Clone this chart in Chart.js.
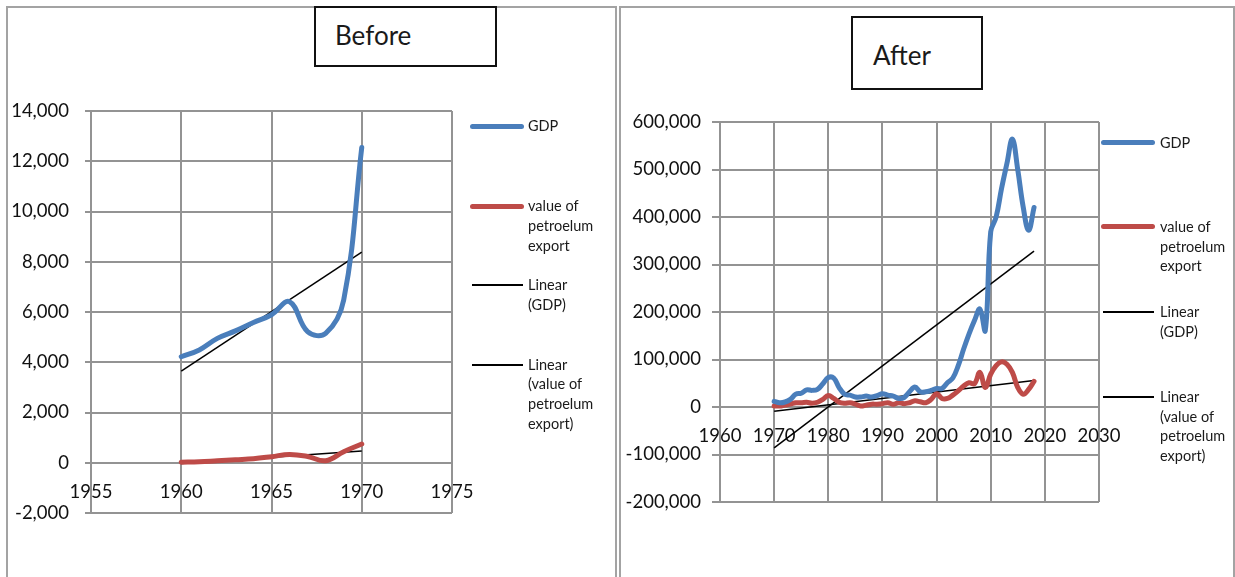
<!DOCTYPE html>
<html>
<head>
<meta charset="utf-8">
<script src="https://cdn.jsdelivr.net/npm/chart.js@4.4.0/dist/chart.umd.min.js"></script>
<style>
  body { margin: 0; width: 1235px; height: 577px; overflow: hidden; position: relative; background: #fff; font-family: Lato, "Open Sans", sans-serif; color: #1a1a1a; }
  .panel { position: absolute; top: 6px; height: 620px; border: 2px solid #a3a3a3; box-sizing: border-box; }
  canvas { position: absolute; top: 0; }
  .title { position: absolute; border: 2px solid #111; background: #fff; box-sizing: border-box; font-size: 26px; }
  .title span { position: absolute; }
  .key { position: absolute; font-size: 14.5px; line-height: 19.7px; white-space: nowrap; }
  .swatch { position: absolute; border-radius: 3px; }
</style>
</head>
<body>
<div class="panel" style="left:6px;width:611px"></div>
<div class="panel" style="left:619px;width:616px"></div>

<canvas id="chartBefore" width="615" height="577" style="left:0"></canvas>
<canvas id="chartAfter" width="615" height="577" style="left:620px"></canvas>

<div class="title" style="left:314px;top:6px;width:183px;height:61px"><span style="left:19px;top:11px">Before</span></div>
<div class="title" style="left:851px;top:16px;width:132px;height:74px"><span style="left:20px;top:21px">After</span></div>

<div id="legends"></div>

<script>
// ---- Before (1960-1970) ----
const yearsBefore = [1960, 1961, 1962, 1963, 1964, 1965, 1966, 1967, 1968, 1969, 1970];
const gdpBefore = [4220, 4490, 4950, 5250, 5580, 5890, 6410, 5220, 5150, 6480, 12550];
const petroBefore = [20, 40, 80, 120, 160, 240, 330, 250, 80, 440, 745];
const trendYearsBefore = [1960, 1970];
const trendGdpBefore = [3650, 8380];
const trendPetroBefore = [-30, 470];
const yTicksBefore = [-2000, 14000, 2000];   // min, max, step
const xTicksBefore = [1955, 1975, 5];

// ---- After (1970-2018) ----
const yearsAfter = [];
for (let y = 1970; y <= 2018; y++) yearsAfter.push(y);
const gdpAfter = [12000, 9000, 10500, 16000, 27000, 29000, 36000, 35000, 37000, 49000,
  62000, 61000, 41000, 27000, 25000, 21000, 21000, 23000, 21000, 24000,
  28000, 25000, 23000, 18000, 20000, 32000, 42000, 32000, 32000, 35000,
  39000, 39000, 51000, 61000, 87000, 122000, 154000, 182000, 206000, 161000,
  369000, 400000, 460000, 513000, 564000, 499000, 421000, 372000, 420000];
const petroAfter = [2000, 2000, 4000, 6000, 9000, 9000, 10000, 8000, 10000, 16000,
  24000, 18000, 10000, 8000, 9000, 6000, 2000, 4000, 6000, 6000,
  7000, 9000, 6000, 9000, 7000, 9000, 13000, 11000, 9000, 16000,
  28000, 18000, 18000, 25000, 34000, 44000, 51000, 49000, 73000, 41000,
  69000, 87000, 95000, 90000, 73000, 41000, 27000, 37000, 54000];
const trendYearsAfter = [1970, 2018];
const trendGdpAfter = [-86000, 328000];
const trendPetroAfter = [-9000, 56000];
const yTicksAfter = [-200000, 600000, 100000];
const xTicksAfter = [1960, 2030, 10];

const legendLabels = [['GDP'], ['value of', 'petroelum', 'export'], ['Linear', '(GDP)'], ['Linear', '(value of', 'petroelum', 'export)']];

const blue = '#4a7ebb';
const red = '#be4b48';
const gridColor = '#939393';
const tickFont = { family: 'Lato', size: 18.5 };

function pts(xs, ys) {
  return xs.map((x, i) => ({ x: x, y: ys[i] }));
}

function buildChart(canvasId, d) {
  return new Chart(document.getElementById(canvasId), {
    type: 'line',
    data: {
      datasets: [
        { data: pts(d.years, d.gdp), borderColor: blue, borderWidth: 5, tension: 0.4, borderCapStyle: 'round', borderJoinStyle: 'round' },
        { data: pts(d.years, d.petro), borderColor: red, borderWidth: 5, tension: 0.4, borderCapStyle: 'round', borderJoinStyle: 'round' },
        { data: pts(d.trendYears, d.trendGdp), borderColor: '#000', borderWidth: 1.5, tension: 0 },
        { data: pts(d.trendYears, d.trendPetro), borderColor: '#000', borderWidth: 1.5, tension: 0 }
      ]
    },
    options: {
      responsive: false,
      animation: false,
      events: [],
      elements: { point: { radius: 0 } },
      layout: { padding: d.padding },
      plugins: { legend: { display: false }, tooltip: { enabled: false } },
      scales: {
        x: {
          type: 'linear',
          position: { y: 0 },
          min: d.xTicks[0], max: d.xTicks[1],
          ticks: { stepSize: d.xTicks[2], autoSkip: false, maxRotation: 0, padding: 18, color: '#111', font: tickFont, callback: v => String(v) },
          grid: { color: gridColor, lineWidth: 2, drawTicks: false },
          border: { display: false }
        },
        y: {
          min: d.yTicks[0], max: d.yTicks[1],
          ticks: { stepSize: d.yTicks[2], padding: d.yPad, color: '#111', font: tickFont },
          grid: { color: gridColor, lineWidth: 2, tickLength: d.tickLen },
          border: { color: gridColor, width: 2 },
          afterFit: s => { s.width = d.yWidth; }
        }
      }
    }
  });
}

buildChart('chartBefore', {
  years: yearsBefore, gdp: gdpBefore, petro: petroBefore,
  trendYears: trendYearsBefore, trendGdp: trendGdpBefore, trendPetro: trendPetroBefore,
  xTicks: xTicksBefore, yTicks: yTicksBefore,
  padding: { left: 0, top: 111, right: 163, bottom: 64 },
  yWidth: 91, yPad: 16, tickLen: 6
});

buildChart('chartAfter', {
  years: yearsAfter, gdp: gdpAfter, petro: petroAfter,
  trendYears: trendYearsAfter, trendGdp: trendGdpAfter, trendPetro: trendPetroAfter,
  xTicks: xTicksAfter, yTicks: yTicksAfter,
  padding: { left: 0, top: 122, right: 136, bottom: 75 },
  yWidth: 100, yPad: 11, tickLen: 8
});

// legends (html, one per chart)
function buildLegend(swatchLeft, textLeft, rows) {
  const box = document.getElementById('legends');
  const styles = [
    { color: blue, h: 5 }, { color: red, h: 5 }, { color: '#000', h: 2 }, { color: '#000', h: 2 }
  ];
  rows.forEach((cy, i) => {
    const s = document.createElement('div');
    s.className = 'swatch';
    const st = styles[i];
    const w = st.h > 2 ? 54 : 51;
    const l = st.h > 2 ? swatchLeft : swatchLeft + 1.5;
    s.style.cssText = `left:${l}px;top:${cy - st.h / 2}px;width:${w}px;height:${st.h}px;background:${st.color};` + (st.h <= 2 ? 'border-radius:0' : '');
    box.appendChild(s);
    const t = document.createElement('div');
    t.className = 'key';
    t.style.left = textLeft + 'px';
    t.style.top = (cy - 9.85) + 'px';
    t.innerHTML = legendLabels[i].join('<br>');
    box.appendChild(t);
  });
}
buildLegend(470, 528, [126, 206, 285, 364.5]);
buildLegend(1101, 1160, [142.5, 226.7, 312.3, 396.7]);
</script>
</body>
</html>
